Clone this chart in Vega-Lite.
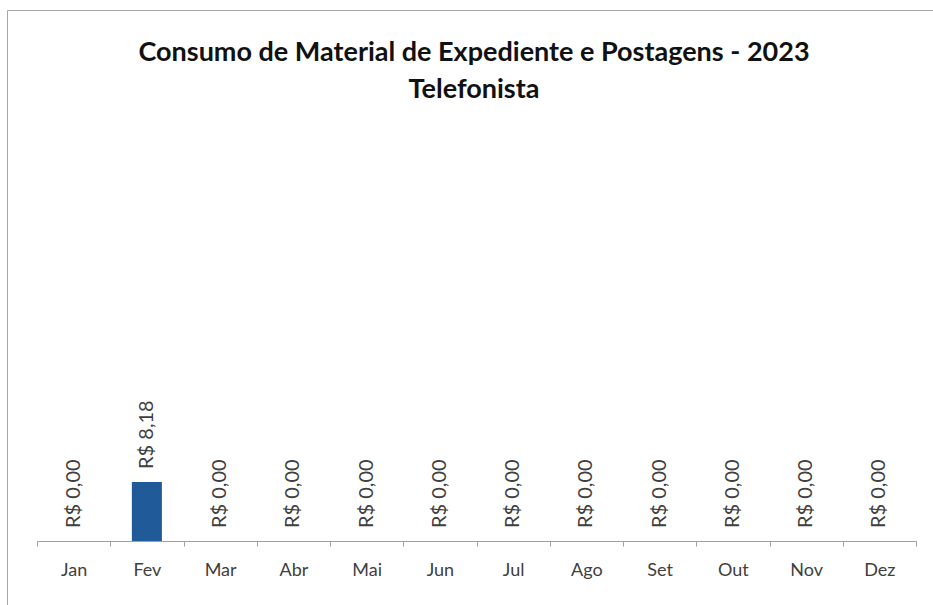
{
  "$schema": "https://vega.github.io/schema/vega-lite/v6.json",
  "autosize": "none",
  "width": 940,
  "height": 610,
  "padding": {"left": 7, "top": 10, "right": 0, "bottom": 0},
  "background": "white",
  "config": {
    "locale": {"number": {"decimal": ",", "thousands": ".", "grouping": [3], "currency": ["R$ ", ""]}},
    "view": {"stroke": "#a6a6a6", "strokeWidth": 1},
    "font": "Lato"
  },
  "title": {
    "text": "Consumo de Material de Expediente e Postagens - 2023",
    "subtitle": "Telefonista",
    "anchor": "middle",
    "offset": -94,
    "dx": -3,
    "font": "Lato",
    "fontSize": 27,
    "fontWeight": "bold",
    "color": "#111111",
    "subtitleFont": "Lato",
    "subtitleFontSize": 27,
    "subtitleFontWeight": "bold",
    "subtitleColor": "#111111",
    "subtitlePadding": 10
  },
  "data": {
    "values": [
      {"mes": "Jan", "valor": 0},
      {"mes": "Fev", "valor": 8.18},
      {"mes": "Mar", "valor": 0},
      {"mes": "Abr", "valor": 0},
      {"mes": "Mai", "valor": 0},
      {"mes": "Jun", "valor": 0},
      {"mes": "Jul", "valor": 0},
      {"mes": "Ago", "valor": 0},
      {"mes": "Set", "valor": 0},
      {"mes": "Out", "valor": 0},
      {"mes": "Nov", "valor": 0},
      {"mes": "Dez", "valor": 0}
    ]
  },
  "encoding": {
    "x": {
      "field": "mes",
      "type": "nominal",
      "sort": null,
      "scale": {"range": [30, 909], "paddingInner": 0, "paddingOuter": 0},
      "axis": {
        "title": null,
        "orient": "bottom",
        "offset": -79,
        "tickBand": "extent",
        "domainColor": "#a0a0a0",
        "tickColor": "#a0a0a0",
        "tickSize": 5,
        "labelAngle": 0,
        "labelFont": "Lato",
        "labelFontSize": 18,
        "labelColor": "#404040",
        "labelPadding": 15
      }
    },
    "y": {
      "field": "valor",
      "type": "quantitative",
      "scale": {"domain": [0, 58.2], "range": [531, 111]},
      "axis": null
    }
  },
  "layer": [
    {"mark": {"type": "bar", "color": "#215a98", "width": {"band": 0.41}}},
    {
      "mark": {"type": "text", "angle": 270, "align": "left", "baseline": "middle", "dx": 13, "font": "Lato", "fontSize": 20, "color": "#404040"},
      "encoding": {"text": {"field": "valor", "type": "quantitative", "format": "$.2f"}}
    }
  ]
}
